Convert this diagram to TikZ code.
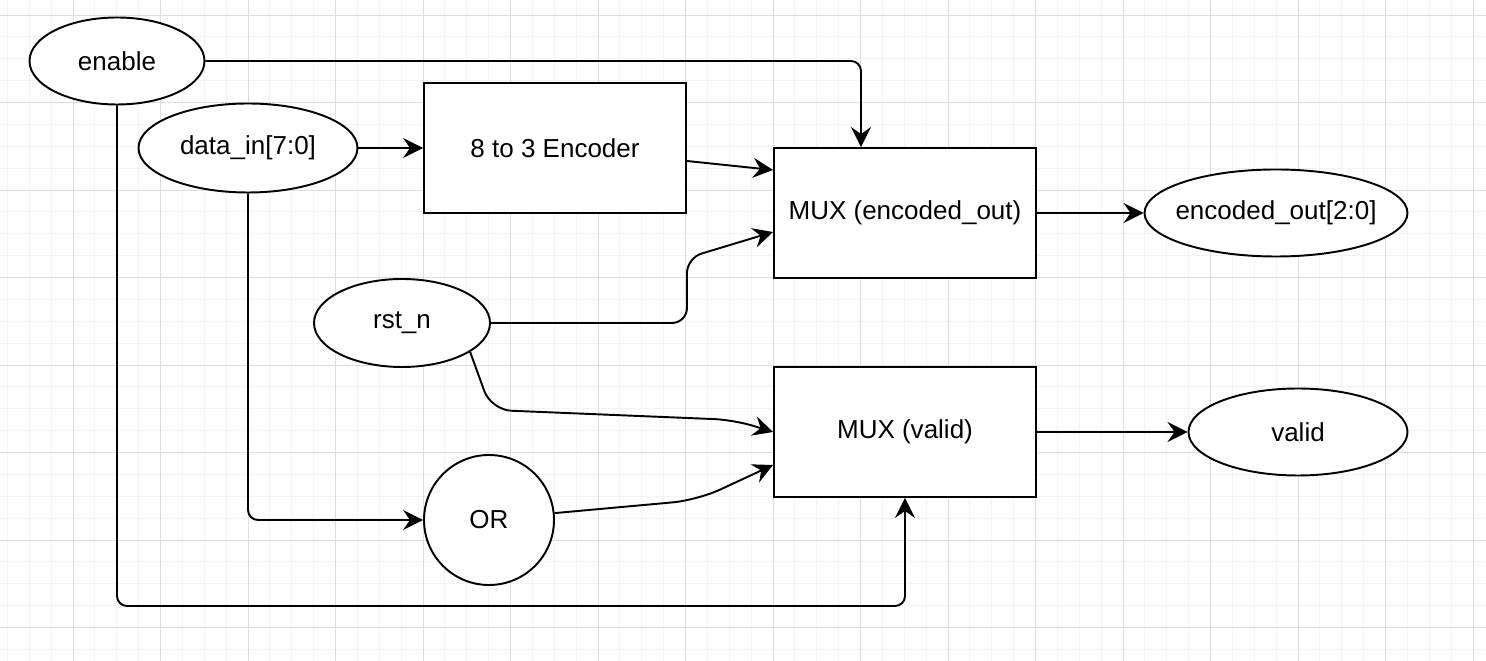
\documentclass[tikz,border=0pt]{standalone}
\usepackage{fontspec}
\setmainfont{Liberation Sans}
\usetikzlibrary{shapes.geometric, arrows.meta}
\definecolor{gridminor}{RGB}{243,243,243}
\definecolor{gridmajor}{RGB}{221,221,221}

\begin{document}
\begin{tikzpicture}[
 box/.style={draw, line width=1.1pt, fill=white, minimum width=5.24cm, minimum height=2.6cm, font=\fontsize{14.8}{18}\selectfont},
 sig/.style={draw, ellipse, line width=1.1pt, fill=white, inner sep=0pt, minimum height=1.74cm, font=\fontsize{14.8}{18}\selectfont},
 gate/.style={draw, circle, line width=1.1pt, fill=white, inner sep=0pt, minimum size=2.6cm, font=\fontsize{14.8}{18}\selectfont},
 wire/.style={line width=1.1pt, rounded corners=0.2cm, -{Stealth[length=0.4cm, width=0.4cm, inset=0.14cm]}}]
 % canvas and grid
 \useasboundingbox[fill=white] (0,0) rectangle (29.72,13.22);
 \draw[gridminor, line width=0.5pt, step=0.4375cm, shift={(1.46,0.67)}] (-1.46,-0.67) grid (28.26,12.55);
 \draw[gridmajor, line width=0.5pt, step=1.75cm, shift={(1.46,0.67)}] (-1.46,-0.67) grid (28.26,12.55);

 % signals and blocks
 \node[sig, minimum width=3.5cm] (enable) at (2.34,12.0){enable};
 \node[sig, minimum width=4.38cm, minimum height=1.78cm] (datain) at (4.96,10.26){data\_in[7:0]};
 \node[box] (enc) at (11.1,10.26){8 to 3 Encoder};
 \node[box] (muxenc) at (18.1,8.96){MUX (encoded\_out)};
 \node[sig, minimum width=5.26cm, inner xsep=-0.16cm] (encout) at (25.52,8.96){encoded\_out[2:0]};
 \node[sig, minimum width=3.52cm, minimum height=1.76cm] (rst) at (8.04,6.76){rst\_n};
 \node[box] (muxval) at (18.1,4.58){MUX (valid)};
 \node[sig, minimum width=4.38cm] (valid) at (25.96,4.58){valid};
 \node[gate] (orgate) at (9.78,2.82){OR};
 \coordinate (busbot) at (0,1.1);

 % wires
 \draw[wire] (enable.east) -| ([xshift=-0.88cm]muxenc.north);
 \draw[wire] (enable.south) -- (enable.south |- busbot) -| (muxval.south);
 \draw[wire] (datain.east) -- (enc.west);
 \draw[wire] (datain.south) |- (orgate.west);
 \draw[wire] ([yshift=-0.26cm]enc.east) -- ([yshift=0.86cm]muxenc.west);
 \draw[wire, rounded corners=0.3cm] (rst.east) -- ([xshift=3.92cm]rst.east) -- ++(0,1.3) -- ([yshift=-0.38cm]muxenc.west);
 \draw[wire, rounded corners=0.4cm] (rst.-23) -- ++(0.42,-1.16) -- ++(4.86,-0.2) -- (muxval.west);
 \draw[wire, rounded corners=0.5cm] (orgate.6) -- ++(2.86,0.26) -- ([yshift=-0.66cm]muxval.west);
 \draw[wire] (muxenc.east) -- (encout.west);
 \draw[wire] (muxval.east) -- (valid.west);
\end{tikzpicture}
\end{document}
